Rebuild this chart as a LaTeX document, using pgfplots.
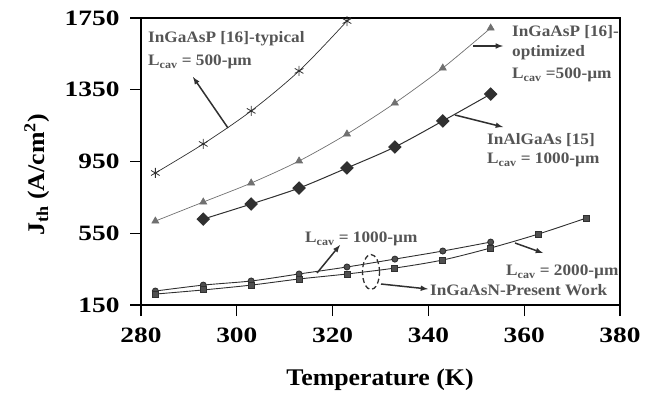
\documentclass[border=0pt]{standalone}
\usepackage{pgfplots}
\pgfplotsset{compat=1.18}
\usepackage{fontspec}
\setmainfont[FakeStretch=1.08]{Liberation Serif}
\newfontfamily\tickfont[FakeStretch=1.25]{Liberation Serif}
\definecolor{anno}{HTML}{555555}
\definecolor{lgray}{HTML}{707070}
\definecolor{dgray}{HTML}{303030}
\begin{document}
\begin{tikzpicture}[x=1bp,y=1bp]
\begin{axis}[
  scale only axis, width=479bp, height=287bp,
  xmin=280, xmax=380, ymin=150, ymax=1750,
  xtick={280,300,...,380}, ytick={150,550,950,1350,1750},
  axis line style={line width=1.6bp},
  tick style={line width=1.3bp, black},
  tick pos=left,
  tick align=outside, major tick length=11bp,
  /pgf/number format/assume math mode=true,
  /pgf/number format/1000 sep={},
  ticklabel style={font=\tickfont\fontsize{22}{22}\selectfont\bfseries},
  xticklabel style={yshift=-8bp},
  yticklabel style={xshift=-7bp},
  clip=true,
]
\addplot[dgray, line width=0.7bp, smooth, mark=asterisk, mark size=5bp, mark options={line width=0.8bp}]
  coordinates {(283,886) (293,1048) (303,1232) (313,1455) (323,1733) (326,1830)};
\addplot[lgray, line width=0.7bp, smooth, mark=triangle*, mark size=4bp]
  coordinates {(283,618) (293,724) (303,830) (313,953) (323,1103) (333,1276) (343,1471) (353,1694)};
\addplot[dgray, line width=1bp, smooth, mark=square*, mark size=4.3bp, mark options={rotate=45}]
  coordinates {(293,629) (303,713) (313,802) (323,914) (333,1031) (343,1176) (353,1326)};
\addplot[dgray, line width=0.9bp, smooth, mark=*, mark size=3bp, mark options={fill=dgray!85}]
  coordinates {(283,228) (293,261) (303,284) (313,323) (323,362) (333,406) (343,451) (353,501)};
\addplot[dgray, line width=0.9bp, smooth, mark=square*, mark size=3bp, mark options={fill=dgray!85}]
  coordinates {(283,211) (293,234) (303,261) (313,295) (323,323) (333,356) (343,401) (353,468) (363,546) (373,635)};
\end{axis}
% annotations (1bp = 1 px of the reference; origin at axis lower left)
\begin{scope}[font=\fontsize{16}{16}\selectfont\bfseries, text=anno]
\node[anchor=west, inner sep=0pt] at (7,266) {InGaAsP [16]-typical};
\node[anchor=west, inner sep=0pt] at (7,243) {L\textsubscript{cav} = 500-µm};
\draw[-latex, line width=1.5bp, dgray] (87,177) -- (52,228);
\node[anchor=west, inner sep=0pt] at (371,273) {InGaAsP [16]-};
\node[anchor=west, inner sep=0pt] at (371,252) {optimized};
\node[anchor=west, inner sep=0pt] at (371,230) {L\textsubscript{cav} =500-µm};
\draw[-latex, line width=1.5bp, dgray] (332,259) -- (362,259);
\node[anchor=west, inner sep=0pt] at (346,165) {InAlGaAs [15]};
\node[anchor=west, inner sep=0pt] at (346,145) {L\textsubscript{cav} = 1000-µm};
\draw[-latex, line width=1.5bp, dgray] (314,190) -- (362,178);
\node[anchor=west, inner sep=0pt] at (164,66) {L\textsubscript{cav} = 1000-µm};
\draw[-latex, line width=1.5bp, dgray] (176,32) -- (199,60);
\draw[dgray, line width=1.3bp, dash pattern=on 5bp off 3bp] (230,33) ellipse [x radius=8.5bp, y radius=17.5bp];
\draw[-latex, line width=1.5bp, dgray] (240,21) -- (287,16);
\node[anchor=west, inner sep=0pt] at (289,15) {InGaAsN-Present Work};
\node[anchor=west, inner sep=0pt] at (365,33) {L\textsubscript{cav} = 2000-µm};
\draw[-latex, line width=1.5bp, dgray] (374,62) -- (402,52);
\end{scope}
\node[font=\fontsize{24}{24}\selectfont\bfseries] at (239,-75) {Temperature (K)};
\node[font=\fontsize{24}{24}\selectfont\bfseries, rotate=90] at (-104,130) {J\textsubscript{th} (A/cm\textsuperscript{2})};
\path[use as bounding box] (-141,-100) rectangle (518,305);
\end{tikzpicture}
\end{document}
